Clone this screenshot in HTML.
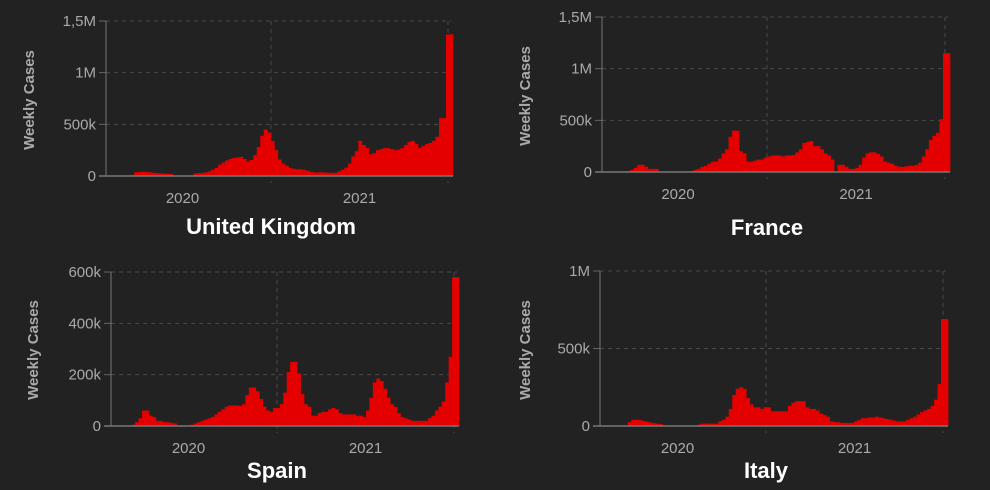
<!DOCTYPE html>
<html><head><meta charset="utf-8"><style>
html,body{margin:0;padding:0;background:#222222;}
svg{display:block;font-family:"Liberation Sans",sans-serif;}
</style></head><body>
<svg id="c" width="990" height="490" viewBox="0 0 990 490">
<rect width="990" height="490" fill="#222222"/>
</svg>
<script>
const ukValues=[0,0,0,1,2,3,5,8,35,38,40,38,36,32,28,25,24,22,20,4,3,3,4,5,6,25,28,30,35,45,60,80,110,130,150,165,175,180,185,165,140,155,200,280,390,450,420,340,250,160,120,100,80,70,65,65,60,50,40,35,35,35,33,32,30,30,45,60,80,120,190,240,340,300,270,210,220,250,260,270,270,260,250,255,270,300,330,340,310,270,290,310,320,340,380,560,560,1370,1370];
const frValues=[0,0,0,0,0,0,0,10,20,40,70,70,50,30,30,30,0,0,0,0,0,0,0,0,5,10,20,30,50,60,80,100,100,130,180,220,340,400,400,200,180,100,100,110,120,120,140,150,160,160,160,150,160,160,165,190,220,280,290,300,250,250,220,180,160,120,0,70,70,50,30,30,40,70,140,180,190,190,175,150,100,90,80,60,50,50,55,60,60,70,90,150,220,310,350,380,510,1150,1150];
const esValues=[0,0,0,0,0,0,5,15,30,60,60,40,35,20,20,15,15,12,10,0,0,0,0,5,10,15,20,25,30,35,45,55,65,75,80,80,80,78,85,120,150,150,135,105,75,60,55,70,70,85,130,210,250,250,205,125,85,75,40,40,50,55,55,65,70,65,50,45,45,45,45,40,40,35,60,110,170,185,175,145,110,85,75,50,35,30,25,20,20,20,20,20,30,40,60,75,95,170,270,580,580];
const itValues=[0,0,0,0,0,0,0,0,25,40,40,38,33,28,22,18,15,12,0,0,0,0,0,0,0,0,0,0,10,15,15,15,15,15,30,40,60,110,200,240,250,240,180,140,120,120,110,120,120,95,95,95,95,95,130,150,160,160,160,120,110,110,100,80,70,60,30,25,25,20,20,20,20,30,40,50,50,55,55,60,55,50,45,40,35,30,30,30,40,50,60,75,90,100,110,130,170,270,690,690];
const ukTicks=[0,500,1000,1500];
const ukTickLabels=["0","500k","1M","1,5M"];
const frTicks=[0,500,1000,1500];
const frTickLabels=["0","500k","1M","1,5M"];
const esTicks=[0,200,400,600];
const esTickLabels=["0","200k","400k","600k"];
const itTicks=[0,500,1000];
const itTickLabels=["0","500k","1M"];
const yearLabels=["2020","2021"];

const panels=[
 {id:"united-kingdom",title:"United Kingdom",vals:ukValues,ticks:ukTicks,labels:ukTickLabels,max:1500,ax:106,right:453,y0:176,yt:21,g:[271,448],ylx:34,yly:100,ty:226},
 {id:"france",title:"France",vals:frValues,ticks:frTicks,labels:frTickLabels,max:1500,ax:602,right:950,y0:172,yt:17,g:[767,945],ylx:530,yly:96,ty:227},
 {id:"spain",title:"Spain",vals:esValues,ticks:esTicks,labels:esTickLabels,max:600,ax:111,right:459,y0:426,yt:272,g:[277,454],ylx:38,yly:350,ty:470},
 {id:"italy",title:"Italy",vals:itValues,ticks:itTicks,labels:itTickLabels,max:1000,ax:600,right:948,y0:426,yt:271,g:[766,943],ylx:530,yly:350,ty:470}
];
const svg=document.getElementById('c');
const NS="http://www.w3.org/2000/svg";
function mk(tag,attrs,parent){const e=document.createElementNS(NS,tag);for(const k in attrs)e.setAttribute(k,attrs[k]);(parent||svg).appendChild(e);return e;}
panels.forEach(p=>{
 const g=mk('g',{});
 
 
 const y=v=>p.y0-(v/p.max)*(p.y0-p.yt);
 const gridEnd=p.g[1]+3;
 // horizontal grid + ticks
 p.ticks.forEach((t,i)=>{
  const yy=y(t);
  if(t>0){const l=mk('line',{x1:p.ax,x2:gridEnd,y1:yy,y2:yy,stroke:'#4a4a4a','stroke-dasharray':'4,4','stroke-width':1},g);
   }
  const tk=mk('line',{x1:p.ax-7,x2:p.ax,y1:yy,y2:yy,stroke:'#666','stroke-width':1},g);
  
  const tx=mk('text',{x:p.ax-10,y:yy+5,'text-anchor':'end','font-size':15,fill:'#aaaaaa'},g);
  tx.textContent=p.labels[i];
  
 });
 // vertical grid
 p.g.forEach(gx=>{
  const l=mk('line',{x1:gx,x2:gx,y1:p.yt,y2:p.y0+7,stroke:'#4a4a4a','stroke-dasharray':'4,4','stroke-width':1},g);
  
 });
 // bars
 const n=p.vals.length, bw=(p.right-p.ax)/n;
 p.vals.forEach((v,i)=>{
  const top=y(v);
  const r=mk('rect',{x:(p.ax+i*bw).toFixed(2),y:top.toFixed(2),width:(bw+0.4).toFixed(2),height:Math.max(0,p.y0-top).toFixed(2),fill:'#e50000'},g);
  
 });
 // axes
 const ya=mk('line',{x1:p.ax,x2:p.ax,y1:p.yt,y2:p.y0,stroke:'#777','stroke-width':1},g);
 
 const xa=mk('line',{x1:p.ax-7,x2:p.right,y1:p.y0,y2:p.y0,stroke:'#777','stroke-width':1.5},g);
 
 // year labels
 const yw=p.g[1]-p.g[0];
 [p.g[0]-yw/2,p.g[0]+yw/2].forEach((lx,i)=>{
  const t=mk('text',{x:lx,y:p.y0+27,'text-anchor':'middle','font-size':15,fill:'#aaaaaa'},g);
  t.textContent=yearLabels[i];
  
 });
 const yl=mk('text',{x:p.ylx,y:p.yly,'text-anchor':'middle','font-size':15,'font-weight':'bold',fill:'#aaaaaa',transform:`rotate(-90 ${p.ylx} ${p.yly})`},g);
 yl.textContent="Weekly Cases";
 
 const tt=mk('text',{x:p.g[0],y:p.ty+8,'text-anchor':'middle','font-size':22,'font-weight':'bold',fill:'#ffffff'},g);
 tt.textContent=p.title;
 
});
</script>
</body></html>
